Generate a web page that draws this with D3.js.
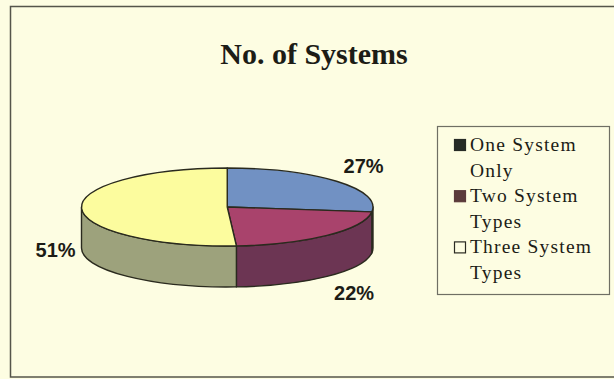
<!DOCTYPE html>
<html>
<head>
<meta charset="utf-8">
<script src="https://cdn.jsdelivr.net/npm/d3@7/dist/d3.min.js"></script>
<style>
  html, body { margin: 0; padding: 0; background: #fdfde2; }
  svg { display: block; }
</style>
</head>
<body>
<svg id="chart" width="614" height="379"></svg>
<script>
// Share of sites by number of system types in use
const categories = ["One System Only", "Two System Types", "Three System Types"];
const shares = [27, 22, 51];
const legendLines = [["One System", "Only"], ["Two System", "Types"], ["Three System", "Types"]];
const chartTitle = "No. of Systems";

const topColors  = ["#7191c3", "#a9436c", "#fcfc9e"];
const sideColors = ["#4d6694", "#6c3553", "#9da27c"];
const legendSwatch = ["#262b26", "#5b3b3b", "#fdfde2"];

const svg = d3.select("#chart");
const W = 614, H = 379;

// Page background and chart frame
svg.append("rect").attr("width", W).attr("height", H).attr("fill", "#fdfde2");
svg.append("rect")
  .attr("x", 10.5).attr("y", 6.5).attr("width", 620).attr("height", 370.5)
  .attr("fill", "none").attr("stroke", "#55554a").attr("stroke-width", 1.5);

// Title
svg.append("text")
  .attr("x", 314).attr("y", 64)
  .attr("text-anchor", "middle")
  .attr("font-family", "'Liberation Serif', 'Times New Roman', serif")
  .attr("font-weight", "bold")
  .attr("font-size", 30)
  .attr("fill", "#1c1c16")
  .text(chartTitle);

// 3-D pie geometry: flattened ellipse with a vertical wall
const cx = 227.25, cy = 207, rx = 145.75, ry = 39, depth = 41;
const pt = (a, dy = 0) => [cx + rx * Math.sin(a), cy - ry * Math.cos(a) + dy];

const pie = d3.pie().sort(null).value(d => d);
const arcs = pie(shares);

const outline = "#2a2a1e";
const gPie = svg.append("g");

// Front walls (only the part between 90° and 270° faces the viewer)
arcs.forEach((d, i) => {
  const s = Math.max(d.startAngle, Math.PI / 2);
  const e = Math.min(d.endAngle, 3 * Math.PI / 2);
  if (e <= s) return;
  const p0 = pt(s), p1 = pt(e), q1 = pt(e, depth), q0 = pt(s, depth);
  const large = (e - s) > Math.PI ? 1 : 0;
  const path = `M${p0}A${rx},${ry} 0 ${large} 1 ${p1}L${q1}A${rx},${ry} 0 ${large} 0 ${q0}Z`;
  gPie.append("path")
    .attr("d", path)
    .attr("fill", sideColors[i])
    .attr("stroke", outline).attr("stroke-width", 1.4)
    .attr("stroke-linejoin", "round");
});

// Top faces
arcs.forEach((d, i) => {
  const p0 = pt(d.startAngle), p1 = pt(d.endAngle);
  const large = (d.endAngle - d.startAngle) > Math.PI ? 1 : 0;
  const path = `M${cx},${cy}L${p0}A${rx},${ry} 0 ${large} 1 ${p1}Z`;
  gPie.append("path")
    .attr("d", path)
    .attr("fill", topColors[i])
    .attr("stroke", outline).attr("stroke-width", 1.4)
    .attr("stroke-linejoin", "round");
});

// Percentage labels just outside the silhouette at each slice's mid-angle
arcs.forEach((d, i) => {
  const a = (d.startAngle + d.endAngle) / 2;
  const front = Math.cos(a) < 0;
  const right = Math.sin(a) >= 0;
  const [bx, by] = pt(a, front ? depth : 0);
  const lx = bx + (right ? 7 : -6);
  const ly = by - 23 * Math.cos(a);
  svg.append("text")
    .attr("x", lx).attr("y", ly).attr("dy", "0.36em")
    .attr("text-anchor", right ? "start" : "end")
    .attr("font-family", "'Liberation Sans', Arial, sans-serif")
    .attr("font-weight", "bold")
    .attr("font-size", 20)
    .attr("fill", "#1c1c16")
    .text(Math.round(d.data) + "%");
});

// Legend
const lg = svg.append("g");
lg.append("rect")
  .attr("x", 437.5).attr("y", 126.5).attr("width", 172).attr("height", 168)
  .attr("fill", "#fdfde2").attr("stroke", "#6f6f64").attr("stroke-width", 1.2);

const lineH = 25.6, firstBase = 151;
legendLines.forEach((lines, i) => {
  const base = firstBase + i * 2 * lineH;
  lg.append("rect")
    .attr("x", 454.5).attr("y", base - 11.5).attr("width", 11).attr("height", 11)
    .attr("fill", legendSwatch[i])
    .attr("stroke", i === 2 ? "#2a2a22" : legendSwatch[i]).attr("stroke-width", 1.2);
  lines.forEach((t, j) => {
    lg.append("text")
      .attr("x", 470).attr("y", base + j * lineH)
      .attr("font-family", "'Liberation Serif', 'Times New Roman', serif")
      .attr("font-size", 19.5)
      .attr("letter-spacing", 1.2)
      .attr("fill", "#1c1c16")
      .text(t);
  });
});
</script>
</body>
</html>
